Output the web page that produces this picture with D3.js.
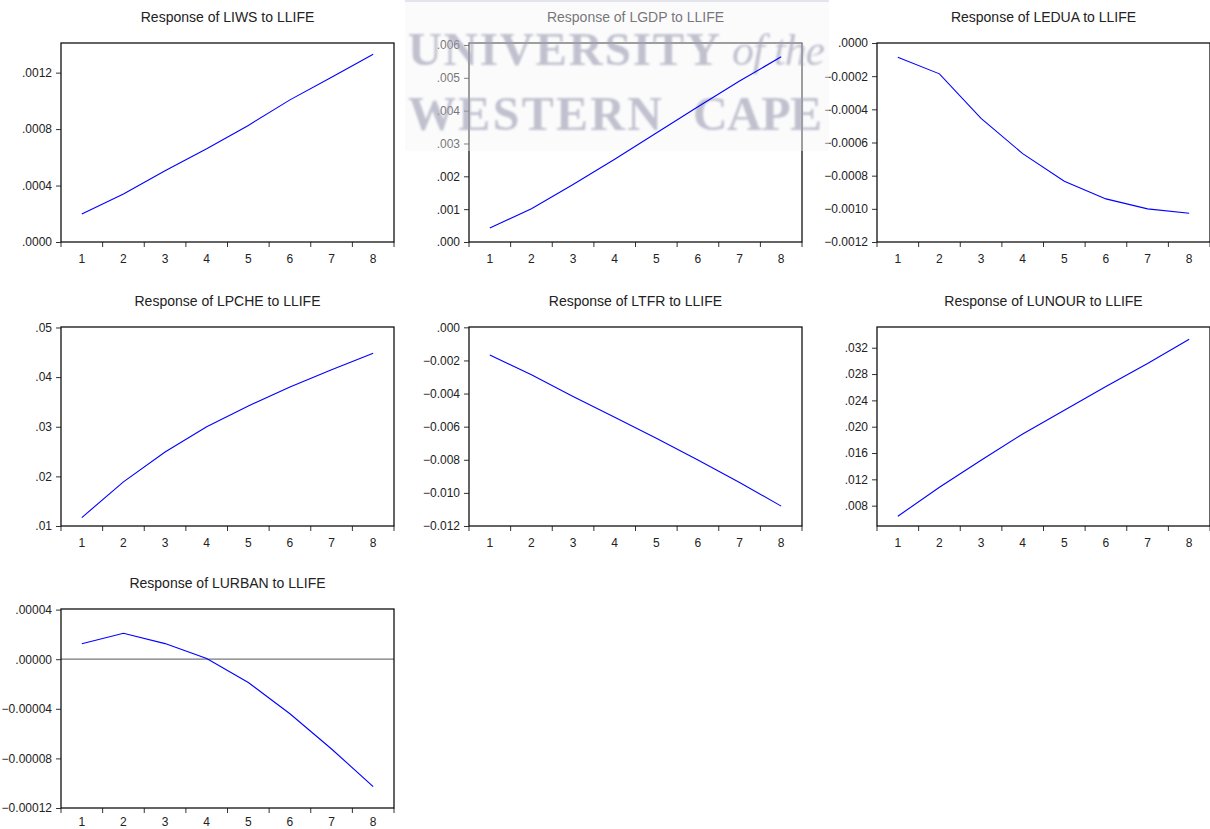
<!DOCTYPE html>
<html>
<head>
<meta charset="utf-8">
<script src="https://cdn.jsdelivr.net/npm/d3@7/dist/d3.min.js"></script>
<style>
  html, body { margin: 0; padding: 0; background: #fff; }
  svg { display: block; }
  .sans { font-family: "Liberation Sans", Arial, sans-serif; }
  .serif { font-family: "Liberation Serif", "Times New Roman", serif; }
</style>
</head>
<body>
<svg id="chart" width="1210" height="829"></svg>
<script>
// Impulse-response periods
const periods = [1, 2, 3, 4, 5, 6, 7, 8];

// Responses to a shock in LLIFE
const liwsResp   = [0.000198, 0.00034, 0.000505, 0.00066, 0.000826, 0.001007, 0.001168, 0.00133];
const lgdpResp   = [0.000425, 0.00101, 0.00175, 0.00252, 0.00332, 0.00412, 0.00490, 0.00564];
const leduaResp  = [-0.000086, -0.000186, -0.000455, -0.000667, -0.000833, -0.00094, -0.001, -0.001027];
const lpcheResp  = [0.0117, 0.0189, 0.0249, 0.0300, 0.0342, 0.0380, 0.0415, 0.0448];
const ltfrResp   = [-0.00167, -0.00287, -0.00418, -0.00543, -0.0067, -0.00802, -0.00937, -0.0108];
const lunourResp = [0.00639, 0.0108, 0.0149, 0.0189, 0.0225, 0.0261, 0.0296, 0.0333];
const lurbanResp = [0.0000124, 0.0000209, 0.0000126, 0.0000006, -0.0000188, -0.000044, -0.0000724, -0.0001027];

// Panel titles
const titles = [
  "Response of LIWS to LLIFE",
  "Response of LGDP to LLIFE",
  "Response of LEDUA to LLIFE",
  "Response of LPCHE to LLIFE",
  "Response of LTFR to LLIFE",
  "Response of LUNOUR to LLIFE",
  "Response of LURBAN to LLIFE"
];

// Y-axis tick values for each panel
const liwsTicks   = [0, 0.0004, 0.0008, 0.0012];
const lgdpTicks   = [0, 0.001, 0.002, 0.003, 0.004, 0.005, 0.006];
const leduaTicks  = [-0.0012, -0.0010, -0.0008, -0.0006, -0.0004, -0.0002, 0];
const lpcheTicks  = [0.01, 0.02, 0.03, 0.04, 0.05];
const ltfrTicks   = [-0.012, -0.010, -0.008, -0.006, -0.004, -0.002, 0];
const lunourTicks = [0.008, 0.012, 0.016, 0.020, 0.024, 0.028, 0.032];
const lurbanTicks = [-0.00012, -0.00008, -0.00004, 0, 0.00004];

// Y-axis ranges
const liwsDomain   = [0, 0.00141];
const lgdpDomain   = [0, 0.00606];
const leduaDomain  = [-0.0012, 0];
const lpcheDomain  = [0.01, 0.0501];
const ltfrDomain   = [-0.012, 0.00002];
const lunourDomain = [0.00491, 0.03515];
const lurbanDomain = [-0.00012, 0.0000405];

// Decimal places used on each panel's y labels
const decimals = [4, 3, 4, 2, 3, 3, 5];

const panels = [
  { title: titles[0], values: liwsResp,   ticks: liwsTicks,   domain: liwsDomain,   dec: decimals[0] },
  { title: titles[1], values: lgdpResp,   ticks: lgdpTicks,   domain: lgdpDomain,   dec: decimals[1] },
  { title: titles[2], values: leduaResp,  ticks: leduaTicks,  domain: leduaDomain,  dec: decimals[2] },
  { title: titles[3], values: lpcheResp,  ticks: lpcheTicks,  domain: lpcheDomain,  dec: decimals[3] },
  { title: titles[4], values: ltfrResp,   ticks: ltfrTicks,   domain: ltfrDomain,   dec: decimals[4] },
  { title: titles[5], values: lunourResp, ticks: lunourTicks, domain: lunourDomain, dec: decimals[5] },
  { title: titles[6], values: lurbanResp, ticks: lurbanTicks, domain: lurbanDomain, dec: decimals[6], zeroLine: true }
];

// Grid layout
const colX = [61, 469, 877];
const rowY = [43, 327, 609];
const W = 333, H = 199;

const svg = d3.select("#chart");

const defs = svg.append("defs");
defs.append("filter").attr("id", "soft")
  .append("feGaussianBlur").attr("stdDeviation", 0.8);

// EViews-style labels: drop the leading zero (".0012", "-.004")
function fmt(dec) {
  const f = d3.format("." + dec + "f");
  return v => {
    const s = f(Math.abs(v) < 1e-12 ? 0 : v);
    return s.replace(/^(-?)0\./, "$1.");
  };
}

// Layers: axes/frames, crest overlay, response lines
const plotLayer = svg.append("g");
const wm = svg.append("g");
const lineLayer = svg.append("g");

panels.forEach((p, i) => {
  const left = colX[i % 3];
  const top = rowY[Math.floor(i / 3)];
  const g = plotLayer.append("g").attr("transform", `translate(${left},${top})`);

  const x = d3.scaleBand().domain(periods).range([0, W]);
  const y = d3.scaleLinear().domain(p.domain).range([H, 0]);

  // Title
  g.append("text")
    .attr("class", "sans")
    .attr("x", W / 2).attr("y", -21)
    .attr("text-anchor", "middle")
    .attr("font-size", 14)
    .attr("fill", "#222")
    .text(p.title);

  // Zero reference line
  if (p.zeroLine) {
    g.append("line")
      .attr("x1", 0).attr("x2", W)
      .attr("y1", y(0)).attr("y2", y(0))
      .attr("stroke", "#777").attr("stroke-width", 1.2);
  }

  // Y axis
  const yAxis = d3.axisLeft(y).tickValues(p.ticks).tickSize(5).tickPadding(4).tickFormat(fmt(p.dec));
  const ya = g.append("g").call(yAxis);
  ya.select(".domain").remove();
  ya.selectAll("line").attr("stroke", "#333");
  ya.selectAll("text").attr("class", "sans").attr("font-size", 12).attr("fill", "#222");

  // X axis: ticks at band edges, labels at band centres
  const bw = x.bandwidth();
  const edges = d3.range(periods.length + 1).map(k => k * bw);
  g.append("g").selectAll("line").data(edges).join("line")
    .attr("x1", d => d).attr("x2", d => d)
    .attr("y1", H).attr("y2", H + 5)
    .attr("stroke", "#333");
  const labelY = Math.min(H + 21, 826 - top);
  g.append("g").selectAll("text").data(periods).join("text")
    .attr("class", "sans")
    .attr("x", d => x(d) + bw / 2)
    .attr("y", labelY)
    .attr("text-anchor", "middle")
    .attr("font-size", 12)
    .attr("fill", "#222")
    .text(d => d);

  // Frame
  g.append("rect")
    .attr("x", 0).attr("y", 0).attr("width", W).attr("height", H)
    .attr("fill", "none").attr("stroke", "#111").attr("stroke-width", 1.3);

  // Response line
  const line = d3.line().x(d => x(d.p) + bw / 2).y(d => y(d.v));
  lineLayer.append("path")
    .attr("transform", `translate(${left},${top})`)
    .datum(periods.map((pp, k) => ({ p: pp, v: p.values[k] })))
    .attr("d", line)
    .attr("fill", "none")
    .attr("stroke", "#0000ff")
    .attr("stroke-width", 1.1);
});

// University crest text overlay
wm.append("rect")
  .attr("x", 405).attr("y", 0).attr("width", 424).attr("height", 151)
  .attr("fill", "#f6f6f8").attr("opacity", 0.4);
wm.append("rect")
  .attr("x", 405).attr("y", 0).attr("width", 424).attr("height", 2)
  .attr("fill", "#e4e4ec");

const wmText = wm.append("g").attr("filter", "url(#soft)")
  .attr("fill", "#9d9db3").attr("opacity", 0.62);
wmText.append("text")
  .attr("class", "serif")
  .attr("x", 408).attr("y", 65)
  .attr("font-size", 47).attr("font-weight", "bold")
  .attr("textLength", 312).attr("lengthAdjust", "spacing")
  .text("UNIVERSITY");
wmText.append("text")
  .attr("class", "serif")
  .attr("x", 732).attr("y", 65)
  .attr("font-size", 44).attr("font-style", "italic")
  .attr("textLength", 93).attr("lengthAdjust", "spacing")
  .text("of the");
wmText.append("text")
  .attr("class", "serif")
  .attr("x", 408).attr("y", 130)
  .attr("font-size", 48).attr("font-weight", "bold")
  .attr("textLength", 254).attr("lengthAdjust", "spacing")
  .text("WESTERN");
wmText.append("text")
  .attr("class", "serif")
  .attr("x", 693).attr("y", 130)
  .attr("font-size", 48).attr("font-weight", "bold")
  .attr("textLength", 129).attr("lengthAdjust", "spacing")
  .text("CAPE");
</script>
</body>
</html>
